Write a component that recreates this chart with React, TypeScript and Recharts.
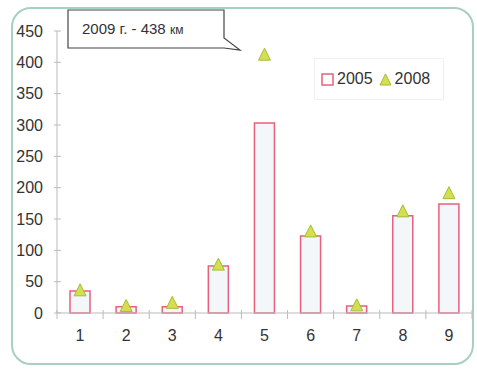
import React from 'react';
import { ComposedChart, Bar, Line, XAxis, YAxis } from 'recharts';

const categories = ['1', '2', '3', '4', '5', '6', '7', '8', '9'];
const values2005 = [35, 10, 10, 75, 303, 123, 11, 155, 174];
const values2008 = [37, 12, 17, 78, 413, 131, 13, 163, 192];
const yTicks = [0, 50, 100, 150, 200, 250, 300, 350, 400, 450];
const seriesNames = ['2005', '2008'];
const calloutText = '2009 г. - 438';
const calloutUnit = 'км';

const data = categories.map((c, i) => ({
  cat: c,
  v2005: values2005[i],
  v2008: values2008[i],
}));

const FONT = '"Liberation Sans", Arial, sans-serif';
const TEXT = '#333';
const AXIS = '#bbb';
const BAR_STROKE = '#e8607c';
const TRI_FILL = '#d2df4f';
const TRI_STROKE = '#a9bb36';
const X_TICK_MARGIN = 17;

const Triangle = (props: any) => {
  const { cx, cy, index } = props;
  if (cx == null || cy == null) return <g key={index} />;
  const w = 12;
  const h = 12;
  const pts = `${cx},${cy - h / 2} ${cx - w / 2},${cy + h / 2} ${cx + w / 2},${cy + h / 2}`;
  return <polygon key={index} points={pts} fill={TRI_FILL} stroke={TRI_STROKE} strokeWidth={1} />;
};

const CatTick = (props: any) => {
  const { x, y, payload, index, visibleTicksCount } = props;
  const half = payload && payload.offset ? payload.offset : 23;
  const axisY = y - X_TICK_MARGIN;
  const isLast = index === (visibleTicksCount ?? categories.length) - 1;
  return (
    <g>
      <line x1={x - half} x2={x - half} y1={axisY - 3} y2={axisY + 6} stroke={AXIS} />
      {isLast && <line x1={x + half} x2={x + half} y1={axisY - 3} y2={axisY + 6} stroke={AXIS} />}
      <text x={x} y={y} dy="0.71em" textAnchor="middle" fill={TEXT} fontSize={16} fontFamily={FONT}>
        {payload.value}
      </text>
    </g>
  );
};

const YTick = (props: any) => {
  const { x, y, payload } = props;
  return (
    <g>
      <line x1={x + 11} x2={x + 18} y1={y} y2={y} stroke={AXIS} />
      <text x={x} y={y} dy="0.355em" textAnchor="end" fill={TEXT} fontSize={16} fontFamily={FONT}>
        {payload.value}
      </text>
    </g>
  );
};

const LegendBox = () => (
  <div
    style={{
      position: 'absolute',
      left: 314,
      top: 58,
      display: 'flex',
      alignItems: 'center',
      fontFamily: FONT,
      fontSize: 16,
      color: TEXT,
      border: '1px solid #f0f0f0',
      padding: '10px 6px',
      boxSizing: 'border-box',
      width: 130,
      height: 42,
    }}
  >
    <svg width={13} height={13} style={{ marginRight: 3 }}>
      <rect x={1} y={1} width={11} height={11} fill="#fff" stroke={BAR_STROKE} strokeWidth={1.5} />
    </svg>
    <span style={{ marginRight: 6 }}>{seriesNames[0]}</span>
    <svg width={13} height={13} style={{ marginRight: 3 }}>
      <polygon points="6.5,1 1,12 12,12" fill={TRI_FILL} stroke={TRI_STROKE} strokeWidth={1} />
    </svg>
    <span>{seriesNames[1]}</span>
  </div>
);

export default function App() {
  return (
    <div style={{ position: 'absolute', left: 0, top: 0, width: 477, height: 369, background: '#fff' }}>
      <div
        style={{
          position: 'absolute',
          left: 11,
          top: 7,
          width: 463,
          height: 358,
          border: '2px solid #a9cfc0',
          borderRadius: 20,
          boxSizing: 'border-box',
        }}
      />
      <div style={{ position: 'absolute', left: 0, top: 0 }}>
        <ComposedChart
          width={477}
          height={369}
          data={data}
          margin={{ top: 31, right: 5, bottom: 0, left: 0 }}
          barCategoryGap={0}
        >
          <XAxis
            dataKey="cat"
            height={56}
            axisLine={{ stroke: AXIS }}
            tickLine={false}
            tickSize={0}
            tickMargin={X_TICK_MARGIN}
            interval={0}
            tick={<CatTick />}
          />
          <YAxis
            domain={[0, 450]}
            ticks={yTicks}
            width={57}
            tickSize={4}
            tickMargin={10}
            axisLine={{ stroke: AXIS }}
            tickLine={false}
            tick={<YTick />}
          />
          <Bar
            dataKey="v2005"
            name={seriesNames[0]}
            barSize={20}
            fill="#f3f7f9"
            stroke={BAR_STROKE}
            strokeWidth={1.5}
            isAnimationActive={false}
          />
          <Line
            dataKey="v2008"
            name={seriesNames[1]}
            stroke="none"
            dot={Triangle}
            activeDot={false}
            isAnimationActive={false}
          />
        </ComposedChart>
      </div>
      <LegendBox />
      <svg width={477} height={369} style={{ position: 'absolute', left: 0, top: 0, pointerEvents: 'none' }}>
        <path
          d="M68,10 L224,10 L224,38 L240,50 L224,48 L68,48 Z"
          fill="#fff"
          stroke="#444"
          strokeWidth={1.2}
        />
        <text x={82} y={34} fontFamily={FONT} fontSize={15} fill={TEXT}>
          {calloutText} <tspan fontSize={12}>{calloutUnit}</tspan>
        </text>
      </svg>
    </div>
  );
}
